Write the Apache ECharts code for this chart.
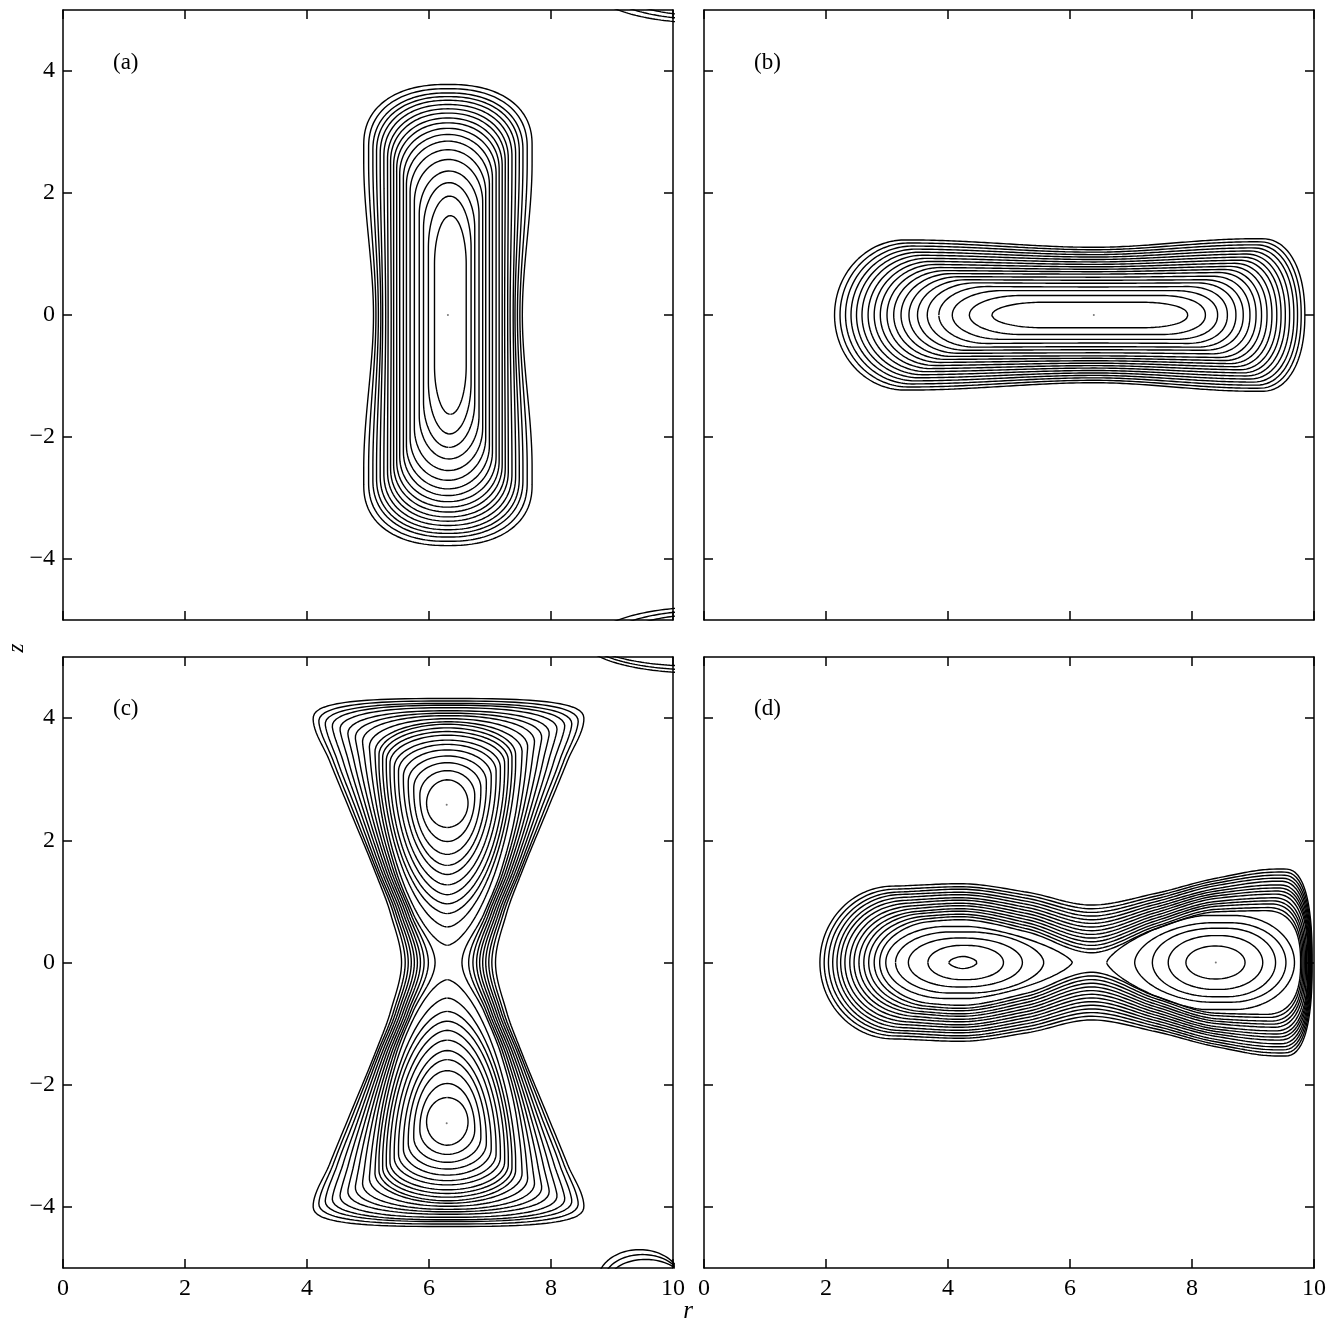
<!DOCTYPE html>
<html><head><meta charset="utf-8">
<script src="https://cdn.jsdelivr.net/npm/echarts@6/dist/echarts.min.js"></script>
<style>html,body{margin:0;padding:0;background:#fff}#c{width:1335px;height:1320px}</style>
</head><body><div id="c"></div>
<script>
// ---------------- DATA ----------------
const rTicks = [0, 2, 4, 6, 8, 10];
const zTicks = [-4, -2, 0, 2, 4];
const panelLabels = ['(a)', '(b)', '(c)', '(d)'];

// Panel (a): vertical contours, outer -> inner
const aTop  = [3.78,3.71,3.64,3.58,3.52,3.45,3.38,3.31,3.23,3.15,3.06,2.96,2.85,2.71,2.55,2.36,2.17,1.95,1.63];
const aW0   = [1.22,1.18,1.14,1.10,1.07,1.02,0.98,0.93,0.89,0.84,0.79,0.73,0.68,0.62,0.56,0.49,0.42,0.35,0.26];
const aW25  = [1.38,1.30,1.23,1.17,1.11,1.05,0.99,0.94,0.89,0.84,0.79,0.73,0.68,0.62,0.56,0.49,0.42,0.35,0.26];
const aCap  = [1.00,0.97,0.94,0.91,0.88,0.85,0.82,0.80,0.78,0.76,0.74,0.72,0.71,0.70,0.70,0.71,0.75,0.85,0.80];
const aCapM = [2.3,2.3,2.25,2.25,2.2,2.2,2.15,2.15,2.1,2.1,2.05,2.05,2,2,2,2,2,2,2];
const aMid  = [6.31,6.31,6.31,6.31,6.31,6.31,6.31,6.31,6.31,6.31,6.31,6.31,6.31,6.31,6.32,6.33,6.33,6.34,6.35];
const aCorner = [[10.5,5.4,1.85,0.61],[10.5,5.4,1.65,0.55],[10.5,5.4,1.45,0.49]]; // cx, cz, a, b
const aDot = [6.31, 0];

// Panel (b): horizontal contours, outer -> inner
const bLeft  = [2.14,2.23,2.32,2.41,2.50,2.59,2.69,2.79,2.89,3.00,3.11,3.23,3.36,3.50,3.66,3.85,4.07,4.35,4.72];
const bRight = [9.85,9.79,9.73,9.67,9.60,9.53,9.46,9.39,9.31,9.23,9.14,9.05,8.95,8.84,8.72,8.58,8.42,8.22,7.93];
const bStations = [3.4, 6.4, 9.0];
const bLobeL = [1.23,1.18,1.13,1.08,1.03,0.98,0.93,0.88,0.83,0.78,0.73,0.68,0.63,0.58,0.53,0.47,0.40,0.32,0.21];
const bMid   = [1.11,1.07,1.03,0.99,0.95,0.91,0.87,0.83,0.79,0.75,0.71,0.67,0.62,0.57,0.52,0.46,0.40,0.32,0.21];
const bLobeR = [1.25,1.20,1.15,1.10,1.05,1.00,0.95,0.90,0.85,0.80,0.75,0.70,0.64,0.58,0.53,0.47,0.40,0.32,0.21];
const bCapL  = [1.15,1.12,1.09,1.06,1.03,1.00,0.97,0.94,0.91,0.88,0.86,0.84,0.82,0.80,0.80,0.80,0.82,0.85,0.85];
const bCapR  = [0.70,0.69,0.68,0.67,0.66,0.65,0.64,0.63,0.63,0.63,0.63,0.63,0.64,0.65,0.66,0.68,0.72,0.76,0.80];
const bDot = [6.39, 0];

// Panel (c): islands around O-points (6.3, ±2.6), inner -> outer (upper island; lower is its mirror)
const cIsR   = 6.30;
const cIsTop = [2.99,3.14,3.27,3.38,3.48,3.57,3.64,3.72,3.78,3.84,3.90];
const cIsBot = [2.21,1.98,1.77,1.59,1.44,1.27,1.11,0.96,0.80,0.58,0.28];
const cIsW   = [0.34,0.45,0.55,0.64,0.72,0.80,0.87,0.94,1.00,1.06,1.12];
const cIsCapT = [0.38,0.40,0.41,0.42,0.43,0.44,0.45,0.46,0.47,0.48,0.50];
const cIsCapB = [0.40,0.74,1.05,1.32,1.55,1.78,1.99,2.20,2.40,2.65,2.95];
const cIsMB   = [2.0,2.0,2.0,1.95,1.9,1.9,1.85,1.85,1.8,1.7,1.6];
// Panel (c): contours enclosing both islands, inner -> outer; half-widths at |z| stations
const cEncZ   = [0, 0.8, 1.5, 2.57, 3.3, 4.0];
const cEnc = [
  [0.22,0.58,0.86,1.12,1.20,1.22],
  [0.33,0.62,0.90,1.18,1.28,1.32],
  [0.40,0.66,0.94,1.24,1.37,1.44],
  [0.46,0.70,0.98,1.30,1.46,1.56],
  [0.51,0.74,1.02,1.36,1.55,1.68],
  [0.56,0.78,1.06,1.42,1.64,1.80],
  [0.61,0.82,1.10,1.48,1.73,1.92],
  [0.66,0.86,1.14,1.54,1.82,2.03],
  [0.71,0.90,1.175,1.60,1.89,2.13],
  [0.77,0.95,1.21,1.65,1.95,2.22]
];
const cEncTop = [3.94,3.99,4.04,4.08,4.12,4.17,4.21,4.24,4.28,4.32];
const cEncCap = [0.50,0.48,0.46,0.44,0.42,0.40,0.39,0.38,0.37,0.36];
const cEncM   = [2.0,2.1,2.2,2.3,2.4,2.5,2.6,2.7,2.8,3.0];
const cEncR   = 6.32;
const cCornerTop = [[10.4,5.3,1.89,0.56],[10.4,5.3,1.81,0.51],[10.4,5.3,1.77,0.45]];
const cCornerBot = [[9.45,-5.2,0.68,0.50],[9.50,-5.2,0.63,0.42],[9.55,-5.2,0.59,0.34]];
const cDots = [[6.29, 2.58], [6.29, -2.63]];

// Panel (d): contours enclosing both islands, outer -> inner; half-heights at r stations
const dSt = [3.0, 4.2, 5.3, 6.35, 7.4, 8.4, 9.4];
const dEnc = [
  [1.25,1.29,1.15,0.94,1.13,1.38,1.53],
  [1.20,1.24,1.10,0.88,1.085,1.34,1.48],
  [1.15,1.20,1.05,0.82,1.04,1.30,1.43],
  [1.11,1.15,1.00,0.76,0.995,1.26,1.38],
  [1.06,1.11,0.95,0.70,0.95,1.21,1.33],
  [1.01,1.06,0.90,0.64,0.905,1.17,1.27],
  [0.96,1.02,0.85,0.58,0.86,1.13,1.22],
  [0.91,0.97,0.80,0.52,0.815,1.09,1.17],
  [0.86,0.93,0.75,0.46,0.77,1.05,1.12],
  [0.81,0.88,0.70,0.40,0.725,1.00,1.06],
  [0.77,0.84,0.65,0.34,0.68,0.96,1.01],
  [0.72,0.79,0.60,0.28,0.635,0.92,0.96],
  [0.67,0.75,0.55,0.22,0.59,0.87,0.90],
  [0.62,0.70,0.50,0.16,0.55,0.83,0.85]
];
const dEncL = [1.90,1.97,2.04,2.11,2.18,2.24,2.31,2.39,2.46,2.54,2.62,2.70,2.79,2.88];
const dEncR = [9.97,9.96,9.95,9.94,9.93,9.92,9.91,9.90,9.88,9.86,9.84,9.82,9.80,9.78];
const dEncCapL = [1.20,1.17,1.14,1.11,1.08,1.05,1.02,0.99,0.96,0.93,0.90,0.87,0.84,0.80];
const dEncCapR = [0.45,0.46,0.47,0.48,0.49,0.50,0.51,0.52,0.53,0.54,0.55,0.56,0.58,0.60];
// left island (O-point ~4.2), outer -> inner
const dLI_s0 = [2.98,3.14,3.35,3.67,4.01];
const dLI_s1 = [6.04,5.57,5.22,4.91,4.48];
const dLI_h  = [0.59,0.50,0.40,0.28,0.10];
const dLI_cL = [1.00,0.90,0.80,0.55,0.235];
const dLI_mL = [2,2,2,2,1.6];
const dLI_cR = [1.70,1.20,0.95,0.60,0.235];
const dLI_mR = [1.4,1.8,2,2,1.6];
// right island (O-point ~8.4), outer -> inner
const dRI_s0 = [6.60,7.06,7.35,7.61,7.90];
const dRI_s1 = [9.68,9.54,9.37,9.16,8.87];
const dRI_h  = [0.77,0.65,0.56,0.44,0.27];
const dRI_cL = [1.60,1.25,1.00,0.75,0.48];
const dRI_mL = [1.4,1.8,2,2,2];
const dRI_cR = [1.00,0.90,0.80,0.70,0.48];
const dRI_mR = [2,2,2,2,2];
const dDot = [8.39, 0];

// ---------------- shape construction ----------------
function pchip(xs, ys) {
  const n = xs.length;
  if (n === 1) return () => ys[0];
  const h = [], d = [];
  for (let i = 0; i < n - 1; i++) { h[i] = xs[i+1] - xs[i]; d[i] = (ys[i+1] - ys[i]) / h[i]; }
  const m = new Array(n).fill(0);
  for (let i = 1; i < n - 1; i++) {
    if (d[i-1] * d[i] <= 0) m[i] = 0;
    else { const w1 = 2*h[i] + h[i-1], w2 = h[i] + 2*h[i-1]; m[i] = (w1 + w2) / (w1 / d[i-1] + w2 / d[i]); }
  }
  return x => {
    if (x <= xs[0]) return ys[0];
    if (x >= xs[n-1]) return ys[n-1];
    let i = 0; while (x > xs[i+1]) i++;
    const t = (x - xs[i]) / h[i], t2 = t*t, t3 = t2*t;
    return (2*t3 - 3*t2 + 1)*ys[i] + (t3 - 2*t2 + t)*h[i]*m[i] + (-2*t3 + 3*t2)*ys[i+1] + (t3 - t2)*h[i]*m[i+1];
  };
}
function capF(u, m) { return Math.pow(Math.max(0, 1 - Math.pow(1 - u, m)), 1 / m); }
// closed contour along long axis s (r for 'h', z for 'v'), symmetric about q0
function contour(o, q0, s0, s1, c0, m0, c1, m1, st, pv) {
  const P = pchip(st, pv), N = 220, up = [];
  for (let k = 0; k <= N; k++) {
    const s = s0 + (s1 - s0) * (1 - Math.cos(Math.PI * k / N)) / 2;
    const d0 = s - s0, d1 = s1 - s;
    let f = 1;
    if (d0 < c0) f = Math.min(f, capF(d0 / c0, m0));
    if (d1 < c1) f = Math.min(f, capF(d1 / c1, m1));
    up.push([s, P(s) * f]);
  }
  const pts = [];
  up.forEach(p => pts.push([p[0], q0 + p[1]]));
  for (let k = up.length - 1; k >= 0; k--) pts.push([up[k][0], q0 - up[k][1]]);
  return o === 'h' ? pts : pts.map(p => [p[1], p[0]]);
}
function ellipse(cx, cz, a, b) { return contour('h', cz, cx - a, cx + a, a, 2, a, 2, [cx], [b]); }
const flipZ = pts => pts.map(p => [p[0], -p[1]]);

// ---------------- series ----------------
const LW = 1.4;
const series = [];
function addLine(gi, pts) {
  series.push({ type: 'line', xAxisIndex: gi, yAxisIndex: gi, data: pts, showSymbol: false, symbol: 'none',
    lineStyle: { color: '#000', width: LW }, silent: true, animation: false, clip: true, z: 3 });
}
function addDots(gi, pts) {
  series.push({ type: 'scatter', xAxisIndex: gi, yAxisIndex: gi, data: pts, symbolSize: 2,
    itemStyle: { color: '#555' }, silent: true, animation: false, z: 4 });
}
// (a)
aTop.forEach((t, i) => addLine(0, contour('v', aMid[i], -t, t, aCap[i], aCapM[i], aCap[i], aCapM[i], [-2.5, 0, 2.5], [aW25[i], aW0[i], aW25[i]])));
aCorner.forEach(e => { const p = ellipse(e[0], e[1], e[2], e[3]); addLine(0, p); addLine(0, flipZ(p)); });
addDots(0, [aDot]);
// (b)
bLeft.forEach((l, i) => addLine(1, contour('h', 0, l, bRight[i], bCapL[i], 2, bCapR[i], 2.2, bStations, [bLobeL[i], bMid[i], bLobeR[i]])));
addDots(1, [bDot]);
// (c)
cIsTop.forEach((t, i) => {
  const p = contour('v', cIsR, cIsBot[i], t, cIsCapB[i], cIsMB[i], cIsCapT[i], 2, [0], [cIsW[i]]);
  addLine(2, p); addLine(2, flipZ(p));
});
cEnc.forEach((row, i) => {
  const st = cEncZ.slice(1).reverse().map(v => -v).concat(cEncZ);
  const pv = row.slice(1).reverse().concat(row);
  addLine(2, contour('v', cEncR, -cEncTop[i], cEncTop[i], cEncCap[i], cEncM[i], cEncCap[i], cEncM[i], st, pv));
});
cCornerTop.forEach(e => addLine(2, ellipse(e[0], e[1], e[2], e[3])));
cCornerBot.forEach(e => addLine(2, ellipse(e[0], e[1], e[2], e[3])));
addDots(2, cDots);
// (d)
dEnc.forEach((row, i) => addLine(3, contour('h', 0, dEncL[i], dEncR[i], dEncCapL[i], 2, dEncCapR[i], 2.5, dSt, row)));
dLI_s0.forEach((s, i) => addLine(3, contour('h', 0, s, dLI_s1[i], dLI_cL[i], dLI_mL[i], dLI_cR[i], dLI_mR[i], [4.2], [dLI_h[i]])));
dRI_s0.forEach((s, i) => addLine(3, contour('h', 0, s, dRI_s1[i], dRI_cL[i], dRI_mL[i], dRI_cR[i], dRI_mR[i], [8.4], [dRI_h[i]])));
addDots(3, [dDot]);

// ---------------- axes / layout ----------------
const FONT = 'Liberation Serif';
const grids = [
  { left: 63, top: 10, width: 610, height: 610 },
  { left: 704, top: 10, width: 610, height: 610 },
  { left: 63, top: 657, width: 610, height: 611 },
  { left: 704, top: 657, width: 610, height: 611 }
];
const line = { show: true, onZero: false, lineStyle: { color: '#000', width: 1.5 } };
const tick = { show: true, inside: true, length: 9, lineStyle: { color: '#000', width: 1.5 } };
function xAx(gi, pos, lab) {
  return { type: 'value', gridIndex: gi, position: pos, min: rTicks[0], max: rTicks[rTicks.length - 1], interval: 2,
    axisLine: line, axisTick: tick, splitLine: { show: false },
    axisLabel: { show: lab, margin: 9, color: '#000', fontFamily: FONT, fontSize: 24 } };
}
function yAx(gi, pos, lab) {
  return { type: 'value', gridIndex: gi, position: pos, min: -5, max: 5,
    axisLine: line, axisTick: Object.assign({ customValues: zTicks }, tick), splitLine: { show: false },
    axisLabel: { show: lab, customValues: zTicks, margin: 8, color: '#000', fontFamily: FONT, fontSize: 24,
      formatter: v => String(v).replace('-', '\u2212') } };
}
const xAxis = [xAx(0,'bottom',false), xAx(1,'bottom',false), xAx(2,'bottom',true), xAx(3,'bottom',true),
               xAx(0,'top',false), xAx(1,'top',false), xAx(2,'top',false), xAx(3,'top',false)];
const yAxis = [yAx(0,'left',true), yAx(1,'left',false), yAx(2,'left',true), yAx(3,'left',false),
               yAx(0,'right',false), yAx(1,'right',false), yAx(2,'right',false), yAx(3,'right',false)];
const titlePos = [[108, 46], [749, 46], [108, 692], [749, 692]];
const title = panelLabels.map((t, i) => ({ text: t, left: titlePos[i][0], top: titlePos[i][1],
  textStyle: { fontFamily: FONT, fontSize: 23, fontWeight: 'normal', color: '#000' } }));

const chart = echarts.init(document.getElementById('c'), null, { renderer: 'canvas' });
chart.setOption({
  backgroundColor: '#fff', animation: false, title, grid: grids, xAxis, yAxis, series,
  graphic: [
    { type: 'text', x: 17, y: 648, rotation: Math.PI / 2,
      style: { text: 'z', font: 'italic 23px "Liberation Serif"', fill: '#000', textAlign: 'center', textVerticalAlign: 'middle' } },
    { type: 'text', x: 688, y: 1311,
      style: { text: 'r', font: 'italic 25px "Liberation Serif"', fill: '#000', textAlign: 'center', textVerticalAlign: 'middle' } }
  ]
});
</script></body></html>
